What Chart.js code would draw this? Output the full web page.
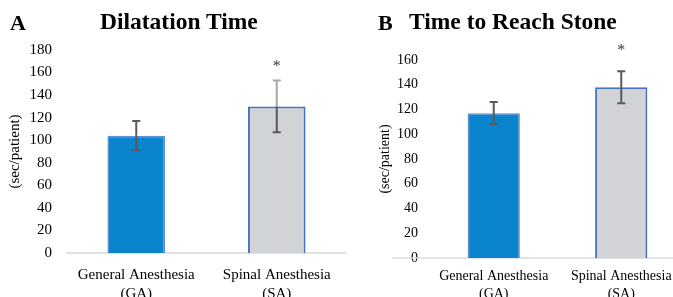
<!DOCTYPE html>
<html>
<head>
<meta charset="utf-8">
<script src="https://cdn.jsdelivr.net/npm/chart.js@4/dist/chart.umd.min.js"></script>
<style>
  html, body { margin: 0; padding: 0; background: #fff; }
  body { width: 673px; height: 297px; overflow: hidden; position: relative; }
  .panel { position: absolute; top: 0; }
  .head { position: absolute; font-family: "Liberation Serif", serif; font-weight: bold; color: #000; white-space: nowrap; }
  .letter { top: 12px; font-size: 22px; line-height: 22px; }
  .title { top: 10px; font-size: 23.5px; line-height: 23.5px; }
</style>
</head>
<body>
<div class="panel" style="left:0"><canvas id="dilChart" width="348" height="297"></canvas></div>
<div class="panel" style="left:348px"><canvas id="reachChart" width="338" height="297"></canvas></div>
<div class="head letter" style="left:10px">A</div>
<div class="head title" style="left:100px">Dilatation Time</div>
<div class="head letter" style="left:378px">B</div>
<div class="head title" style="left:409px">Time to Reach Stone</div>
<script>
const groups = [['General Anesthesia', '(GA)'], ['Spinal Anesthesia', '(SA)']];

const dilatationMean = [104, 130];
const dilatationErr = [13, 23];
const dilatationTicks = [0, 20, 40, 60, 80, 100, 120, 140, 160, 180];

const reachMean = [117, 138];
const reachErr = [9, 13];
const reachTicks = [0, 20, 40, 60, 80, 100, 120, 140, 160];

const significant = [false, true];

const serif = '"Liberation Serif", "Times New Roman", serif';

// error bars, asterisk and the grey baseline
const extras = {
  id: 'extras',
  beforeDatasetsDraw(chart, args, opts) {
    const ctx = chart.ctx;
    const y0 = chart.scales.y.getPixelForValue(0);
    ctx.save();
    ctx.strokeStyle = '#d9d9d9';
    ctx.lineWidth = 1.5;
    ctx.beginPath();
    ctx.moveTo(chart.chartArea.left - opts.baseExtend, y0);
    ctx.lineTo(chart.chartArea.right, y0);
    ctx.stroke();
    ctx.restore();
  },
  afterDatasetsDraw(chart, args, opts) {
    const ctx = chart.ctx;
    const ys = chart.scales.y;
    const meta = chart.getDatasetMeta(0);
    const vals = chart.data.datasets[0].data;
    ctx.save();
    ctx.lineWidth = 2;
    vals.forEach((v, i) => {
      const e = opts.err[i];
      const x = meta.data[i].x;
      const top = ys.getPixelForValue(v + e);
      const bot = ys.getPixelForValue(v - e);
      const barTop = ys.getPixelForValue(v);
      ctx.strokeStyle = opts.upperColors[i];
      ctx.beginPath();
      ctx.moveTo(x - 4, top); ctx.lineTo(x + 4, top);
      ctx.moveTo(x, top); ctx.lineTo(x, barTop);
      ctx.stroke();
      ctx.strokeStyle = '#595959';
      ctx.beginPath();
      ctx.moveTo(x, barTop); ctx.lineTo(x, bot);
      ctx.moveTo(x - 4, bot); ctx.lineTo(x + 4, bot);
      ctx.stroke();
      if (opts.sig[i]) {
        ctx.fillStyle = '#404040';
        ctx.font = '16px ' + serif;
        ctx.textAlign = 'center';
        ctx.textBaseline = 'alphabetic';
        ctx.fillText('*', x, top - opts.starGap + 7);
      }
    });
    ctx.restore();
  }
};

function makeChart(id, means, errs, ticks, cfg) {
  return new Chart(document.getElementById(id), {
    type: 'bar',
    data: {
      labels: groups,
      datasets: [{
        data: means,
        backgroundColor: ['#0a84cc', '#d1d3d6'],
        borderColor: ['#5a8fd2', '#4472c4'],
        borderWidth: [1.5, 2],
        barPercentage: 0.41,
        categoryPercentage: 1
      }]
    },
    options: {
      responsive: false,
      animation: false,
      layout: { padding: { top: cfg.top, right: 1, left: 0, bottom: 0 } },
      plugins: {
        legend: { display: false },
        tooltip: { enabled: false },
        extras: { err: errs, upperColors: cfg.upperColors, sig: significant, starGap: cfg.starGap, baseExtend: cfg.baseExtend }
      },
      scales: {
        x: {
          grid: { display: false, drawTicks: false },
          border: { display: false },
          ticks: { color: '#000', padding: cfg.xPad, font: { family: serif, size: cfg.xFont, lineHeight: 1.25 }, maxRotation: 0, autoSkip: false },
          afterFit: s => { s.height = cfg.xHeight; }
        },
        y: {
          min: 0,
          max: ticks[ticks.length - 1],
          afterBuildTicks: s => { s.ticks = ticks.map(v => ({ value: v })); },
          grid: { display: false, drawTicks: false },
          border: { display: false },
          ticks: { color: '#000', padding: cfg.yPad, font: { family: serif, size: cfg.yFont } },
          title: { display: true, text: '(sec/patient)', color: '#000', font: { family: serif, size: cfg.yFont }, padding: { top: cfg.titlePad, bottom: 0 } },
          afterFit: s => { s.width = cfg.yWidth; }
        }
      }
    },
    plugins: [extras]
  });
}

makeChart('dilChart', dilatationMean, dilatationErr, dilatationTicks, {
  top: 50, xHeight: 44, xPad: 13, xFont: 15, yPad: 14, yFont: 15, yWidth: 66, titlePad: 6,
  upperColors: ['#595959', '#a6a6a6'], starGap: 16, baseExtend: 0
});

makeChart('reachChart', reachMean, reachErr, reachTicks, {
  top: 60, xHeight: 39, xPad: 10, xFont: 14, yPad: 12, yFont: 14, yWidth: 82, titlePad: 29,
  upperColors: ['#595959', '#595959'], starGap: 23, baseExtend: 38
});
</script>
</body>
</html>
